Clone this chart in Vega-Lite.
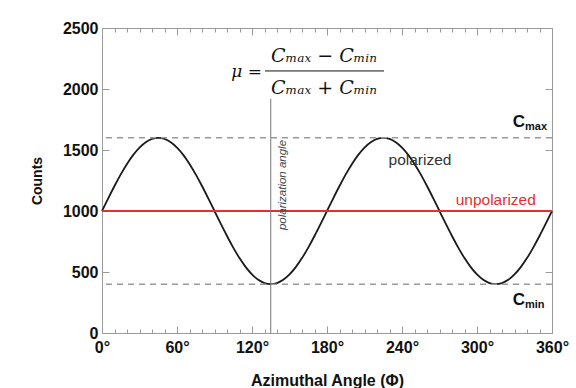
{
  "$schema": "https://vega.github.io/schema/vega-lite/v6.json",
  "width": 450,
  "height": 305,
  "autosize": "none",
  "padding": {"left": 102, "top": 28, "right": 24, "bottom": 55},
  "background": "white",
  "config": {
    "view": {"stroke": null},
    "axis": {
      "domainColor": "#9a9a9a",
      "tickColor": "#9a9a9a",
      "labelFont": "Liberation Sans",
      "labelFontWeight": "bold",
      "labelFontSize": 16,
      "labelColor": "#111",
      "titleFont": "Liberation Sans",
      "titleFontWeight": "bold",
      "titleColor": "#111",
      "grid": false,
      "labelFlush": false,
      "labelOverlap": false
    }
  },
  "datasets": {
    "polarized": [
      {"phi": 0, "counts": 1000}, {"phi": 5, "counts": 1104}, {"phi": 10, "counts": 1205}, {"phi": 15, "counts": 1300},
      {"phi": 20, "counts": 1386}, {"phi": 25, "counts": 1460}, {"phi": 30, "counts": 1520}, {"phi": 35, "counts": 1564},
      {"phi": 40, "counts": 1591}, {"phi": 45, "counts": 1600}, {"phi": 50, "counts": 1591}, {"phi": 55, "counts": 1564},
      {"phi": 60, "counts": 1520}, {"phi": 65, "counts": 1460}, {"phi": 70, "counts": 1386}, {"phi": 75, "counts": 1300},
      {"phi": 80, "counts": 1205}, {"phi": 85, "counts": 1104}, {"phi": 90, "counts": 1000}, {"phi": 95, "counts": 896},
      {"phi": 100, "counts": 795}, {"phi": 105, "counts": 700}, {"phi": 110, "counts": 614}, {"phi": 115, "counts": 540},
      {"phi": 120, "counts": 480}, {"phi": 125, "counts": 436}, {"phi": 130, "counts": 409}, {"phi": 135, "counts": 400},
      {"phi": 140, "counts": 409}, {"phi": 145, "counts": 436}, {"phi": 150, "counts": 480}, {"phi": 155, "counts": 540},
      {"phi": 160, "counts": 614}, {"phi": 165, "counts": 700}, {"phi": 170, "counts": 795}, {"phi": 175, "counts": 896},
      {"phi": 180, "counts": 1000}, {"phi": 185, "counts": 1104}, {"phi": 190, "counts": 1205}, {"phi": 195, "counts": 1300},
      {"phi": 200, "counts": 1386}, {"phi": 205, "counts": 1460}, {"phi": 210, "counts": 1520}, {"phi": 215, "counts": 1564},
      {"phi": 220, "counts": 1591}, {"phi": 225, "counts": 1600}, {"phi": 230, "counts": 1591}, {"phi": 235, "counts": 1564},
      {"phi": 240, "counts": 1520}, {"phi": 245, "counts": 1460}, {"phi": 250, "counts": 1386}, {"phi": 255, "counts": 1300},
      {"phi": 260, "counts": 1205}, {"phi": 265, "counts": 1104}, {"phi": 270, "counts": 1000}, {"phi": 275, "counts": 896},
      {"phi": 280, "counts": 795}, {"phi": 285, "counts": 700}, {"phi": 290, "counts": 614}, {"phi": 295, "counts": 540},
      {"phi": 300, "counts": 480}, {"phi": 305, "counts": 436}, {"phi": 310, "counts": 409}, {"phi": 315, "counts": 400},
      {"phi": 320, "counts": 409}, {"phi": 325, "counts": 436}, {"phi": 330, "counts": 480}, {"phi": 335, "counts": 540},
      {"phi": 340, "counts": 614}, {"phi": 345, "counts": 700}, {"phi": 350, "counts": 795}, {"phi": 355, "counts": 896},
      {"phi": 360, "counts": 1000}
    ],
    "unpolarized": [{"phi": 0, "counts": 1000}, {"phi": 360, "counts": 1000}],
    "levels": [{"level": "Cmax", "counts": 1600}, {"level": "Cmin", "counts": 400}]
  },
  "resolve": {"axis": {"x": "independent", "y": "independent"}},
  "layer": [
    {
      "data": {"name": "polarized"},
      "mark": {"type": "line", "color": "#1a1a1a", "strokeWidth": 1.8, "interpolate": "monotone"},
      "encoding": {
        "x": {
          "field": "phi", "type": "quantitative",
          "scale": {"domain": [0, 360], "nice": false},
          "title": "Azimuthal Angle (Φ)",
          "axis": {
            "orient": "bottom",
            "values": [0,10,20,30,40,50,60,70,80,90,100,110,120,130,140,150,160,170,180,190,200,210,220,230,240,250,260,270,280,290,300,310,320,330,340,350,360],
            "labelExpr": "datum.value % 60 === 0 ? datum.value + '°' : ''",
            "tickSize": {"condition": {"test": "datum.value % 60 === 0", "value": -7}, "value": -4},
            "labelPadding": 13,
            "titleFontSize": 16,
            "titlePadding": 14
          }
        },
        "y": {
          "field": "counts", "type": "quantitative",
          "scale": {"domain": [0, 2500], "nice": false},
          "title": "Counts",
          "axis": {
            "orient": "left",
            "values": [0, 500, 1000, 1500, 2000, 2500],
            "format": "d",
            "tickSize": -7,
            "labelPadding": 11,
            "titleFontSize": 14,
            "titlePadding": 18
          }
        }
      }
    },
    {
      "data": {"name": "unpolarized"},
      "mark": {"type": "line", "color": "#e3302f", "strokeWidth": 2},
      "encoding": {
        "x": {
          "field": "phi", "type": "quantitative",
          "axis": {
            "orient": "top",
            "values": [0,10,20,30,40,50,60,70,80,90,100,110,120,130,140,150,160,170,180,190,200,210,220,230,240,250,260,270,280,290,300,310,320,330,340,350,360],
            "labels": false,
            "title": null,
            "tickSize": {"condition": {"test": "datum.value % 60 === 0", "value": -7}, "value": -4}
          }
        },
        "y": {
          "field": "counts", "type": "quantitative",
          "axis": {
            "orient": "right",
            "values": [0, 500, 1000, 1500, 2000, 2500],
            "labels": false,
            "title": null,
            "tickSize": -7
          }
        }
      }
    },
    {
      "data": {"name": "levels"},
      "mark": {"type": "rule", "color": "#9a9a9a", "strokeWidth": 1.5, "strokeDash": [6, 5]},
      "encoding": {
        "y": {"field": "counts", "type": "quantitative", "axis": null}
      }
    },
    {
      "data": {"values": [{"phi": 135, "bottom": 0, "top": 1920}]},
      "mark": {"type": "rule", "color": "#777777", "strokeWidth": 1},
      "encoding": {
        "x": {"field": "phi", "type": "quantitative", "axis": null},
        "y": {"field": "bottom", "type": "quantitative", "axis": null},
        "y2": {"field": "top"}
      }
    },
    {
      "data": {"values": [{"phi": 144.8, "counts": 1213, "label": "polarization angle"}]},
      "mark": {"type": "text", "angle": 270, "font": "Liberation Sans", "fontStyle": "italic", "fontSize": 11.5, "color": "#444", "align": "center", "baseline": "middle"},
      "encoding": {
        "x": {"field": "phi", "type": "quantitative", "axis": null},
        "y": {"field": "counts", "type": "quantitative", "axis": null},
        "text": {"field": "label"}
      }
    },
    {
      "data": {"values": [{"phi": 254.4, "counts": 1377, "label": "polarized"}]},
      "mark": {"type": "text", "font": "Liberation Sans", "fontSize": 15.5, "color": "#333", "align": "center", "baseline": "alphabetic"},
      "encoding": {
        "x": {"field": "phi", "type": "quantitative", "axis": null},
        "y": {"field": "counts", "type": "quantitative", "axis": null},
        "text": {"field": "label"}
      }
    },
    {
      "data": {"values": [{"phi": 315, "counts": 1049, "label": "unpolarized"}]},
      "mark": {"type": "text", "font": "Liberation Sans", "fontSize": 15.5, "color": "#e3302f", "align": "center", "baseline": "alphabetic"},
      "encoding": {
        "x": {"field": "phi", "type": "quantitative", "axis": null},
        "y": {"field": "counts", "type": "quantitative", "axis": null},
        "text": {"field": "label"}
      }
    },
    {
      "data": {"values": [{"phi": 338.4, "counts": 1689, "label": "C"}, {"phi": 338.4, "counts": 230, "label": "C"}]},
      "mark": {"type": "text", "font": "Liberation Sans", "fontWeight": "bold", "fontSize": 17, "color": "#111", "align": "right", "baseline": "alphabetic"},
      "encoding": {
        "x": {"field": "phi", "type": "quantitative", "axis": null},
        "y": {"field": "counts", "type": "quantitative", "axis": null},
        "text": {"field": "label"}
      }
    },
    {
      "data": {"values": [{"phi": 338.4, "counts": 1664, "label": "max"}, {"phi": 338.4, "counts": 205, "label": "min"}]},
      "mark": {"type": "text", "font": "Liberation Sans", "fontWeight": "bold", "fontSize": 11, "color": "#111", "align": "left", "baseline": "alphabetic"},
      "encoding": {
        "x": {"field": "phi", "type": "quantitative", "axis": null},
        "y": {"field": "counts", "type": "quantitative", "axis": null},
        "text": {"field": "label"}
      }
    },
    {
      "data": {"values": [{"phi": 128, "counts": 2139, "label": "μ ="}]},
      "mark": {"type": "text", "font": "DejaVu Serif", "fontStyle": "italic", "fontSize": 17, "color": "#111", "align": "right", "baseline": "middle"},
      "encoding": {
        "x": {"field": "phi", "type": "quantitative", "axis": null},
        "y": {"field": "counts", "type": "quantitative", "axis": null},
        "text": {"field": "label"}
      }
    },
    {
      "data": {"values": [{"phi": 177.6, "counts": 2270, "label": "Cₘₐₓ − Cₘᵢₙ"}, {"phi": 177.6, "counts": 2008, "label": "Cₘₐₓ + Cₘᵢₙ"}]},
      "mark": {"type": "text", "font": "DejaVu Serif", "fontStyle": "italic", "fontSize": 19, "color": "#111", "align": "center", "baseline": "middle"},
      "encoding": {
        "x": {"field": "phi", "type": "quantitative", "axis": null},
        "y": {"field": "counts", "type": "quantitative", "axis": null},
        "text": {"field": "label"}
      }
    },
    {
      "data": {"values": [{"start": 130.4, "end": 225.6, "counts": 2148}]},
      "mark": {"type": "rule", "color": "#111", "strokeWidth": 1},
      "encoding": {
        "x": {"field": "start", "type": "quantitative", "axis": null},
        "x2": {"field": "end"},
        "y": {"field": "counts", "type": "quantitative", "axis": null}
      }
    }
  ]
}
